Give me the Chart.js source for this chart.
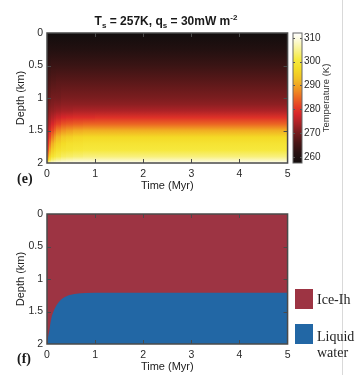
<!DOCTYPE html>
<html>
<head>
  <title>Ice shell temperature and phase</title>
  <style>
    body {
      margin: 0;
      background: #fff;
      font-family: "Liberation Sans", Arial, sans-serif;
    }
    #wrap {
      position: relative;
      width: 355px;
      height: 375px;
      overflow: hidden;
    }
    canvas { position: absolute; }
    #heatChart { left: 0; top: 0; }
    #barChart { left: 285px; top: 0; }
    #phaseChart { left: 0; top: 180px; }
    #rule {
      position: absolute; left: 342px; top: 0;
      width: 1px; height: 375px; background: #d9d9d9;
    }
    .txt { position: absolute; white-space: nowrap; color: #1a1a1a; }
    #title {
      left: 0; top: 14px; width: 332px; text-align: center;
      font-size: 12px; font-weight: bold; line-height: 14px;
    }
    #title sub, #title sup { font-size: 8px; vertical-align: baseline; position: relative; line-height: 0; }
    #title sub { top: 3px; }
    #title sup { top: -5px; }
    .panel {
      font-family: "Liberation Serif", "Times New Roman", serif;
      font-weight: bold; font-size: 14px; line-height: 16px; left: 17px;
    }
    #cbTitle {
      left: 276px; top: 92px; width: 100px; height: 12px;
      line-height: 12px; font-size: 9.5px; text-align: center;
      color: #333; transform: rotate(-90deg);
    }
    .swatch { position: absolute; left: 295px; width: 18px; height: 20px; }
    .leg {
      font-family: "Liberation Serif", "Times New Roman", serif;
      font-size: 14px; line-height: 16px; left: 317px; color: #222;
    }
  </style>
</head>
<body>
<div id="wrap">
  <div id="rule"></div>
  <canvas id="heatChart" width="295" height="195"></canvas>
  <canvas id="barChart" width="70" height="195"></canvas>
  <canvas id="phaseChart" width="295" height="195"></canvas>

  <div class="txt" id="title">T<sub>s</sub> = 257K, q<sub>s</sub> = 30mW m<sup>-2</sup></div>
  <div class="txt" id="cbTitle">Temperature (K)</div>
  <div class="txt panel" style="top:171px">(e)</div>
  <div class="txt panel" style="top:351px">(f)</div>

  <div class="swatch" style="top:289px; background:#9d3443"></div>
  <div class="swatch" style="top:324px; background:#2267a5"></div>
  <div class="txt leg" style="top:292px">Ice-Ih</div>
  <div class="txt leg" style="top:329px">Liquid<br>water</div>
</div>

<script src="https://cdn.jsdelivr.net/npm/chart.js"></script>
<script>
  // ---- data ----
  const timeTicks = [0, 1, 2, 3, 4, 5];
  const depthTicks = [0, 0.5, 1, 1.5, 2];
  const tempTicks = [260, 270, 280, 290, 300, 310];

  // temperature field: column edges in time (Myr), depth levels (km)
  const timeEdges = [0, 0.02, 0.05, 0.1, 0.15, 0.2, 0.3, 0.4, 0.55, 0.75, 1.0, 5];
  const depthLevels = [0, 0.25, 0.5, 0.75, 1.0, 1.1, 1.2, 1.3, 1.4, 1.5, 1.6, 1.7, 1.8, 1.9, 1.95, 2.0];
  // one temperature profile (K) per time column
  const tempColumns = [
    [257, 259.5, 262, 264, 266, 267, 268, 269, 270, 271, 272.5, 274, 276, 280, 285, 296],
    [257, 260, 263, 265.5, 268, 269, 270, 271.5, 273, 275, 277, 279.5, 283, 289, 295, 306],
    [257, 260.5, 263.5, 266.5, 269, 270.5, 272, 273.5, 275.5, 278.5, 282, 286, 290.5, 296, 300, 309],
    [257, 260.5, 264, 267, 270, 271, 272.5, 275, 278, 282, 286.5, 291, 294.5, 299, 303, 310],
    [257, 260.5, 264, 267, 270, 271.5, 273, 276, 280, 284.5, 289.5, 293.5, 296.5, 300.5, 304, 310.5],
    [257, 260.5, 264, 267.5, 270, 271.5, 273.5, 277, 281.5, 287, 292, 295.5, 298, 301.5, 305, 311],
    [257, 260.5, 264, 267.5, 270.5, 272, 274, 278, 283, 288.5, 294, 297, 299, 302.5, 306, 311],
    [257, 260.5, 264, 267.5, 270.5, 272, 274, 278.5, 283.5, 289.5, 295, 298, 299.5, 303, 306.5, 311],
    [257, 260.5, 264, 267.5, 270.5, 272, 274.5, 279, 284, 290.5, 296, 298.5, 300, 303.5, 307, 311],
    [257, 260.5, 264, 267.5, 270.5, 272, 274.5, 279, 284.5, 291, 296.5, 299, 300.5, 304, 307, 311],
    [257, 260.5, 264, 267.5, 270.5, 272, 274.5, 279.5, 284.5, 291, 296.5, 299, 300.5, 304, 307, 311]
  ];

  // ice / liquid water interface (depth of top of water, km)
  const boundaryTime = [0, 0.01, 0.03, 0.05, 0.07, 0.1, 0.15, 0.2, 0.25, 0.3, 0.36, 0.45, 0.57, 0.7, 0.8, 1.0, 5];
  const boundaryDepth = [2.0, 1.95, 1.86, 1.79, 1.68, 1.57, 1.47, 1.40, 1.35, 1.31, 1.28, 1.25, 1.23, 1.22, 1.215, 1.21, 1.21];

  // ---- style ----
  const cmapTemps = [257.5, 262, 266, 270, 274, 278, 281, 285, 289, 293, 297, 301, 305, 309, 312];
  const cmapColors = ['#120d0d', '#2a1212', '#4a1616', '#741c1e', '#a82226', '#d8262a', '#e43c26',
                      '#ec6a22', '#f09a22', '#f2c224', '#f4dc26', '#f6ea40', '#f8f290', '#fcfad8', '#ffffff'];
  const iceColor = '#9d3443';
  const waterColor = '#2267a5';
  const tickColor = '#2a2a2a';
  const tickFont = { family: '"Liberation Sans", Arial, sans-serif', size: 10.5 };
  const titleFont = { family: '"Liberation Sans", Arial, sans-serif', size: 11 };

  function hexRgb(h) {
    return [parseInt(h.slice(1, 3), 16), parseInt(h.slice(3, 5), 16), parseInt(h.slice(5, 7), 16)];
  }
  const cmapRgb = cmapColors.map(hexRgb);

  function hot(t) {
    if (t <= cmapTemps[0]) return cmapColors[0];
    for (let i = 1; i < cmapTemps.length; i++) {
      if (t <= cmapTemps[i]) {
        const f = (t - cmapTemps[i - 1]) / (cmapTemps[i] - cmapTemps[i - 1]);
        const a = cmapRgb[i - 1], b = cmapRgb[i];
        return 'rgb(' + a.map((v, k) => Math.round(v + (b[k] - v) * f)).join(',') + ')';
      }
    }
    return cmapColors[cmapColors.length - 1];
  }

  // draws the temperature field, one column at a time
  const heatmapPlugin = {
    id: 'heatmap',
    beforeDatasetsDraw(chart) {
      const { ctx, chartArea: a, scales: { x, y } } = chart;
      const yTop = y.getPixelForValue(depthLevels[0]);
      const yBot = y.getPixelForValue(depthLevels[depthLevels.length - 1]);
      ctx.save();
      ctx.beginPath();
      ctx.rect(a.left, a.top, a.width, a.height);
      ctx.clip();
      tempColumns.forEach((col, i) => {
        const x0 = x.getPixelForValue(timeEdges[i]);
        const x1 = x.getPixelForValue(timeEdges[i + 1]);
        const g = ctx.createLinearGradient(0, yTop, 0, yBot);
        col.forEach((t, j) => {
          g.addColorStop((y.getPixelForValue(depthLevels[j]) - yTop) / (yBot - yTop), hot(t));
        });
        ctx.fillStyle = g;
        ctx.fillRect(Math.floor(x0), yTop, Math.ceil(x1) - Math.floor(x0) + 1, yBot - yTop);
      });
      ctx.restore();
    }
  };

  // matlab style box with inward ticks
  const framePlugin = {
    id: 'frame',
    afterDatasetsDraw(chart) {
      const { ctx, chartArea: a, scales: { x, y } } = chart;
      ctx.save();
      ctx.strokeStyle = '#4a4a4a';
      ctx.lineWidth = 1;
      ctx.beginPath();
      x.ticks.forEach(t => {
        if (t.value <= x.min || t.value >= x.max) return;
        const px = Math.round(x.getPixelForValue(t.value)) + 0.5;
        ctx.moveTo(px, a.bottom); ctx.lineTo(px, a.bottom - 4);
        ctx.moveTo(px, a.top); ctx.lineTo(px, a.top + 4);
      });
      y.ticks.forEach(t => {
        if (t.value <= y.min || t.value >= y.max) return;
        const py = Math.round(y.getPixelForValue(t.value)) + 0.5;
        ctx.moveTo(a.left, py); ctx.lineTo(a.left + 4, py);
        ctx.moveTo(a.right, py); ctx.lineTo(a.right - 4, py);
      });
      ctx.stroke();
      ctx.lineWidth = 1.5;
      ctx.strokeRect(a.left, a.top, a.width, a.height);
      ctx.restore();
    }
  };

  // colour bar fill
  const colorbarPlugin = {
    id: 'colorbar',
    beforeDatasetsDraw(chart) {
      const { ctx, chartArea: a, scales: { y } } = chart;
      const top = y.getPixelForValue(y.max), bot = y.getPixelForValue(y.min);
      const g = ctx.createLinearGradient(0, top, 0, bot);
      cmapTemps.forEach((t, i) => {
        g.addColorStop(Math.min(1, Math.max(0, (y.getPixelForValue(t) - top) / (bot - top))), cmapColors[i]);
      });
      ctx.save();
      ctx.fillStyle = g;
      ctx.fillRect(a.left, a.top, a.width, a.height);
      ctx.strokeStyle = '#555';
      ctx.lineWidth = 1;
      ctx.beginPath();
      y.ticks.forEach(t => {
        const py = Math.round(y.getPixelForValue(t.value)) + 0.5;
        ctx.moveTo(a.right, py); ctx.lineTo(a.right - 2, py);
        ctx.moveTo(a.left, py); ctx.lineTo(a.left + 2, py);
      });
      ctx.stroke();
      ctx.strokeStyle = '#666';
      ctx.strokeRect(a.left, a.top, a.width, a.height);
      ctx.restore();
    }
  };

  const plainLabel = v => String(v);

  function xAxis(titlePad) {
    return {
      type: 'linear', min: 0, max: 5,
      afterBuildTicks: s => { s.ticks = timeTicks.map(v => ({ value: v })); },
      afterFit: s => { s.height = 32; },
      grid: { display: false, drawTicks: false },
      border: { display: false },
      ticks: { padding: 4.5, color: tickColor, font: tickFont, maxRotation: 0, callback: plainLabel },
      title: { display: true, text: 'Time (Myr)', color: '#222', font: titleFont, padding: { top: 0, bottom: titlePad } }
    };
  }

  function yAxis() {
    return {
      type: 'linear', min: 0, max: 2, reverse: true,
      afterBuildTicks: s => { s.ticks = depthTicks.map(v => ({ value: v })); },
      afterFit: s => { s.width = 47; },
      grid: { display: false, drawTicks: false },
      border: { display: false },
      ticks: { padding: 4, color: tickColor, font: tickFont, callback: plainLabel },
      title: { display: true, text: 'Depth (km)', color: '#222', font: titleFont, padding: { top: 14.5, bottom: 0 } }
    };
  }

  const basePlugins = { legend: { display: false }, tooltip: { enabled: false } };

  new Chart(document.getElementById('heatChart'), {
    type: 'scatter',
    data: { datasets: [] },
    options: {
      responsive: false,
      animation: false,
      devicePixelRatio: 1,
      layout: { padding: { left: 0, top: 33, right: 7, bottom: 0 } },
      plugins: basePlugins,
      scales: { x: xAxis(2), y: yAxis() }
    },
    plugins: [heatmapPlugin, framePlugin]
  });

  new Chart(document.getElementById('barChart'), {
    type: 'scatter',
    data: { datasets: [] },
    options: {
      responsive: false,
      animation: false,
      devicePixelRatio: 1,
      layout: { padding: { left: 8, top: 33, right: 0, bottom: 32 } },
      plugins: basePlugins,
      scales: {
        x: { display: false, min: 0, max: 1 },
        y: {
          type: 'linear', position: 'right', min: 257.5, max: 312,
          afterBuildTicks: s => { s.ticks = tempTicks.map(v => ({ value: v })); },
          afterFit: s => { s.width = 53; },
          grid: { display: false, drawTicks: false },
          border: { display: false },
          ticks: { padding: 2, color: tickColor, font: { family: tickFont.family, size: 10 }, callback: plainLabel }
        }
      }
    },
    plugins: [colorbarPlugin]
  });

  new Chart(document.getElementById('phaseChart'), {
    type: 'scatter',
    data: {
      datasets: [
        {
          label: 'Liquid water',
          data: boundaryTime.map((t, i) => ({ x: t, y: boundaryDepth[i] })),
          showLine: true, fill: { value: 2 },
          backgroundColor: waterColor, borderWidth: 0, pointRadius: 0
        },
        {
          label: 'Ice-Ih',
          data: [{ x: 0, y: 0 }, { x: 5, y: 0 }],
          showLine: true, fill: { value: 2 },
          backgroundColor: iceColor, borderWidth: 0, pointRadius: 0
        }
      ]
    },
    options: {
      responsive: false,
      animation: false,
      devicePixelRatio: 1,
      layout: { padding: { left: 0, top: 34, right: 7, bottom: 0 } },
      plugins: basePlugins,
      scales: { x: Object.assign(xAxis(1), { afterFit: s => { s.height = 31; } }), y: yAxis() }
    },
    plugins: [framePlugin]
  });
</script>
</body>
</html>
